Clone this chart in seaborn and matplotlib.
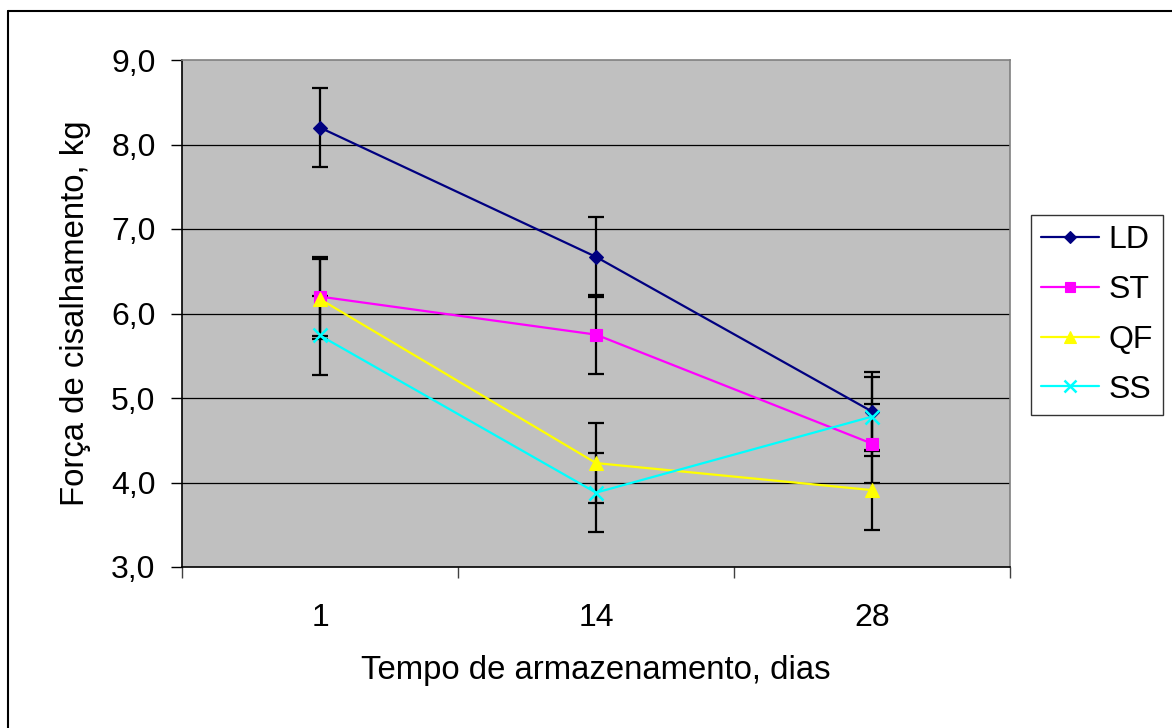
import matplotlib
matplotlib.use("Agg")
import matplotlib.pyplot as plt
from matplotlib.lines import Line2D
from matplotlib.ticker import FixedLocator, FuncFormatter
import numpy as np
import pandas as pd
import seaborn as sns

# Storage time (days) and shear force (kg) per treatment
days = ["1", "14", "28"]
ld = [8.20, 6.67, 4.84]
st = [6.20, 5.75, 4.46]
qf = [6.17, 4.23, 3.91]
ss = [5.74, 3.88, 4.78]
err_ld = [0.47, 0.47, 0.47]
err_st = [0.47, 0.47, 0.47]
err_qf = [0.47, 0.47, 0.47]
err_ss = [0.47, 0.47, 0.47]
series_names = ["LD", "ST", "QF", "SS"]
y_ticks = [3.0, 4.0, 5.0, 6.0, 7.0, 8.0, 9.0]

values = {"LD": ld, "ST": st, "QF": qf, "SS": ss}
errors = {"LD": err_ld, "ST": err_st, "QF": err_qf, "SS": err_ss}

rows = []
for name in series_names:
    for i, d in enumerate(days):
        rows.append({"pos": i, "dia": d, "serie": name,
                     "forca": values[name][i], "erro": errors[name][i]})
df = pd.DataFrame(rows)

colors = {"LD": "#000080", "ST": "#FF00FF", "QF": "#FFFF00", "SS": "#00FFFF"}
markers = {"LD": "D", "ST": "s", "QF": "^", "SS": "x"}
msizes = {"LD": 7, "ST": 8.5, "QF": 10, "SS": 10}

sns.set_theme(style="white")
plt.rcParams["font.family"] = ["Liberation Sans", "DejaVu Sans"]
plt.rcParams["text.color"] = "black"
plt.rcParams["axes.labelcolor"] = "black"
plt.rcParams["xtick.color"] = "black"
plt.rcParams["ytick.color"] = "black"

W, H = 1172, 728
fig = plt.figure(figsize=(W / 100, H / 100), dpi=100)
fig.patch.set_facecolor("white")
left, right, top, bottom = 182, 1010, 60, 567
ax = fig.add_axes([left / W, 1 - bottom / H, (right - left) / W, (bottom - top) / H])
ax.set_facecolor("#C0C0C0")

# Error bars under the series lines
for name in series_names:
    sub = df[df["serie"] == name]
    ax.errorbar(sub["pos"], sub["forca"], yerr=sub["erro"], fmt="none",
                ecolor="black", elinewidth=1.6, capsize=6, capthick=1.6, zorder=2)

for name in series_names:
    sub = df[df["serie"] == name]
    sns.lineplot(data=sub, x="pos", y="forca", ax=ax, color=colors[name],
                 marker=markers[name], markersize=msizes[name],
                 markeredgecolor=colors[name], markeredgewidth=1.8 if name == "SS" else 0.8,
                 linewidth=1.6, zorder=3, legend=False, errorbar=None)

ax.set_xlim(-0.5, 2.5)
ax.set_ylim(3.0, 9.0)

# Y axis: comma decimal labels with outside ticks
ax.yaxis.set_major_locator(FixedLocator(y_ticks))
ax.yaxis.set_major_formatter(FuncFormatter(lambda v, p: f"{v:.1f}".replace(".", ",")))
ax.tick_params(axis="y", which="major", direction="out", length=8, width=1,
               color="black", labelcolor="black", pad=11, labelsize=23, left=True)

# X axis: labels at category centres, tick marks at category boundaries
ax.set_xticks(range(len(days)))
ax.set_xticklabels(days)
ax.xaxis.set_minor_locator(FixedLocator([-0.5, 0.5, 1.5, 2.5]))
ax.tick_params(axis="x", which="major", length=0, pad=26, labelsize=23,
               labelcolor="black", bottom=True)
ax.tick_params(axis="x", which="minor", direction="out", length=8, width=1,
               color="#404040", bottom=True)

ax.grid(False)
for y in y_ticks[1:-1]:
    ax.axhline(y, color="black", linewidth=0.9, zorder=1)

for side in ["top", "right"]:
    ax.spines[side].set_visible(True)
    ax.spines[side].set_color("#808080")
    ax.spines[side].set_linewidth(1.2)
for side in ["left", "bottom"]:
    ax.spines[side].set_visible(True)
    ax.spines[side].set_color("black")
    ax.spines[side].set_linewidth(1.2)

ax.set_xlabel("Tempo de armazenamento, dias", fontsize=23.7, color="black")
ax.set_ylabel("Força de cisalhamento, kg", fontsize=23.7, color="black")
ax.xaxis.set_label_coords(0.5, -(670 - bottom) / (bottom - top))
ax.xaxis.label.set_va("center")
ax.yaxis.set_label_coords(-(left - 75) / (right - left), 0.5)
ax.yaxis.label.set_va("center")

handles = [Line2D([0], [0], color=colors[n], marker=markers[n],
                  markersize=msizes[n] * 0.85, markeredgecolor=colors[n],
                  markeredgewidth=1.8 if n == "SS" else 0.8, linewidth=1.6)
           for n in series_names]
leg = fig.legend(handles, series_names, loc="upper left",
                 bbox_to_anchor=(1031 / W, 1 - 215 / H), fontsize=23,
                 frameon=True, fancybox=False, edgecolor="black",
                 handlelength=1.8, handletextpad=0.3, labelspacing=0.62,
                 borderpad=0.32, borderaxespad=0)
leg.get_frame().set_linewidth(1.0)
for t in leg.get_texts():
    t.set_color("black")

# Chart border
fig.add_artist(Line2D([8 / W, 8 / W], [0, 1 - 11 / H], transform=fig.transFigure,
                      color="black", linewidth=1.5))
fig.add_artist(Line2D([8 / W, 1], [1 - 11 / H, 1 - 11 / H], transform=fig.transFigure,
                      color="black", linewidth=1.5))

fig.savefig("out.png", dpi=100)
